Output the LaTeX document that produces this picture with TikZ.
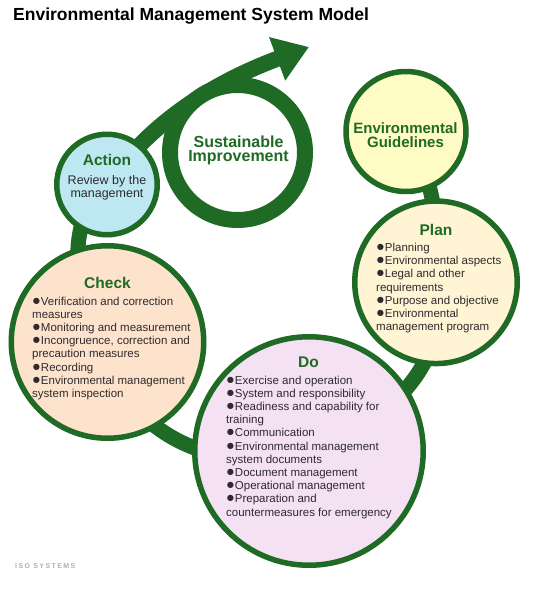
\documentclass[tikz,border=0pt]{standalone}
\usepackage{fontspec}
\setmainfont{Liberation Sans}
\newfontfamily\isofont[LetterSpace=20]{Liberation Sans}
\usetikzlibrary{positioning,calc,arrows.meta,backgrounds}
\definecolor{EMSgreen}{HTML}{1F6A25}
\definecolor{EMSink}{HTML}{2E2A2E}
\definecolor{ActFill}{HTML}{BDE8F2}
\definecolor{GuideFill}{HTML}{FFFBC4}
\definecolor{PlanFill}{HTML}{FFF4D4}
\definecolor{CheckFill}{HTML}{FDE3CC}
\definecolor{DoFill}{HTML}{F4E1F4}
\definecolor{ISOgray}{HTML}{B4AEB4}
\newcommand{\bul}{{\fontsize{14.5}{11}\selectfont ●}}

\begin{document}
\begin{tikzpicture}[x=1pt,y=-1pt,
  stage/.style={circle,draw=EMSgreen,line width=5.5pt,inner sep=0pt},
  head/.style={anchor=base,inner sep=0pt,text=EMSgreen,font=\fontsize{15.5}{15.5}\selectfont\bfseries},
  items/.style={anchor=north west,inner sep=0pt,align=left,text=EMSink,font=\fontsize{11.5}{13.2}\selectfont},
  track/.style={draw=EMSgreen,line width=15pt}]
\useasboundingbox (0,0) rectangle (550,590);
\node[anchor=base west,inner sep=0pt,font=\fontsize{17.5}{17.5}\selectfont\bfseries] (title) at (13,20.5) {Environmental Management System Model};
% stages
\node[stage,fill=ActFill,minimum size=100.5pt] (action) at (107,184.5) {};
\node[stage,fill=white,line width=16pt,minimum size=135pt] (ring) at (237.5,152.5) {};
\node[stage,fill=GuideFill,minimum size=120pt] (guide) at (406,131.5) {};
\node[stage,fill=PlanFill,minimum size=162.5pt] (plan) at (436,282.3) {};
\node[stage,fill=CheckFill,minimum size=192.5pt] (check) at (107.5,342) {};
\node[stage,fill=DoFill,minimum size=228.5pt] (do) at (309,451) {};
\coordinate (tip) at (309,47);
% texts
\node[anchor=north,inner sep=0pt,align=center,text=EMSgreen,font=\fontsize{16}{14.5}\selectfont\bfseries] (ringtext) at (238.5,135.6) {Sustainable\\Improvement};
\node[anchor=north,inner sep=0pt,align=center,text=EMSgreen,font=\fontsize{15}{14}\selectfont\bfseries] (guidetext) at (405.5,122.3) {Environmental\\Guidelines};
\node[head] (acthead) at (107,165.5) {Action};
\node[anchor=north,inner sep=0pt,align=center,text=EMSink,font=\fontsize{12.5}{13}\selectfont] (acttext) at (107,175) {Review by the\\management};
\node[head] (checkhead) at (107.5,288.5) {Check};
\node[items] (checktext) at (32,296.5) {\bul Verification and correction\\measures\\\bul Monitoring and measurement\\\bul Incongruence, correction and\\precaution measures\\\bul Recording\\\bul Environmental management\\system inspection};
\node[head] (planhead) at (436,235.5) {Plan};
\node[items] (plantext) at (376,243) {\bul Planning\\\bul Environmental aspects\\\bul Legal and other\\requirements\\\bul Purpose and objective\\\bul Environmental\\management program};
\node[head] (dohead) at (308.5,367.5) {Do};
\node[items] (dotext) at (226,375.5) {\bul Exercise and operation\\\bul System and responsibility\\\bul Readiness and capability for\\training\\\bul Communication\\\bul Environmental management\\system documents\\\bul Document management\\\bul Operational management\\\bul Preparation and\\countermeasures for emergency};
\node[anchor=base west,inner sep=0pt,text=ISOgray,font=\fontsize{7}{7}\selectfont\isofont\bfseries] (iso) at (15,568.5) {ISO SYSTEMS};
% the spiral behind the stages
\begin{scope}[on background layer]
\draw[track] (action.center) .. controls (68,215) and (68,290) .. (check.center);
\draw[track] (check.center) .. controls (115,430) and (220,480) .. (do.center);
\draw[track] (do.center) .. controls (410,415) and (450,345) .. (plan.center);
\draw[track] (plan.center) .. controls (440,230) and (435,180) .. (guide.center);
\draw[track,line width=16pt,-{Triangle[width=44pt,length=34pt]}] (action.center) .. controls (160,108) and (239,73) .. (tip);
\end{scope}
\end{tikzpicture}
\end{document}
